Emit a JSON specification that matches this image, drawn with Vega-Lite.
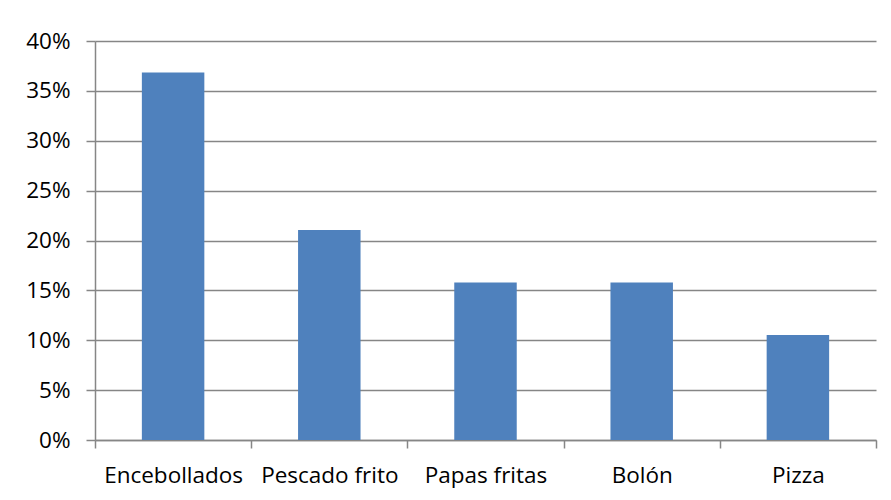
{
  "$schema": "https://vega.github.io/schema/vega-lite/v6.json",
  "width": 781,
  "height": 399,
  "autosize": {"type": "none"},
  "padding": {"left": 95, "top": 41, "right": 15, "bottom": 60},
  "background": "white",
  "data": {
    "values": [
      {"comida": "Encebollados", "pct": 0.3684},
      {"comida": "Pescado frito", "pct": 0.2105},
      {"comida": "Papas fritas", "pct": 0.1579},
      {"comida": "Bolón", "pct": 0.1579},
      {"comida": "Pizza", "pct": 0.1053}
    ]
  },
  "mark": {"type": "bar", "color": "#4F81BD", "width": {"band": 0.4}},
  "encoding": {
    "x": {
      "field": "comida",
      "type": "nominal",
      "sort": null,
      "scale": {"paddingInner": 0, "paddingOuter": 0},
      "axis": {
        "title": null,
        "labelAngle": 0,
        "tickBand": "extent",
        "grid": false,
        "domainColor": "#868686",
        "tickColor": "#868686",
        "domainWidth": 1.5,
        "tickWidth": 1.5,
        "tickSize": 8,
        "labelPadding": 16,
        "labelFont": "Open Sans",
        "labelFontSize": 22.5,
        "labelColor": "#000000"
      }
    },
    "y": {
      "field": "pct",
      "type": "quantitative",
      "scale": {"domain": [0, 0.4], "nice": false},
      "axis": {
        "title": null,
        "format": ".0%",
        "values": [0, 0.05, 0.1, 0.15, 0.2, 0.25, 0.3, 0.35, 0.4],
        "grid": true,
        "gridColor": "#868686",
        "gridWidth": 1.5,
        "domainColor": "#868686",
        "tickColor": "#868686",
        "domainWidth": 1.5,
        "tickWidth": 1.5,
        "tickSize": 9,
        "labelPadding": 16,
        "labelFont": "Open Sans",
        "labelFontSize": 22.5,
        "labelColor": "#000000"
      }
    }
  },
  "config": {"view": {"stroke": null}}
}
